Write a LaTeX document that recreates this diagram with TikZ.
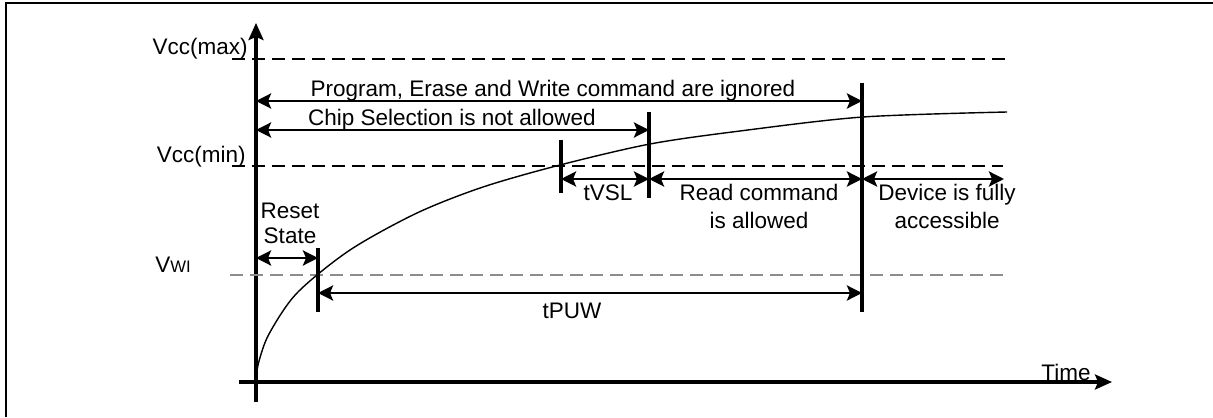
\documentclass[tikz,border=0pt]{standalone}
\usepackage{fontspec}
\setmainfont{Liberation Sans}
\usepackage{xcolor}
\usetikzlibrary{arrows.meta,calc}
\definecolor{ink}{HTML}{000000}
\definecolor{wiline}{HTML}{8C8C8C}
\tikzset{
  frame/.style={draw=ink, line width=1.7pt},
  axis/.style={draw=ink, line width=1.8pt, -{Stealth[length=3.4mm,width=3.0mm,inset=0.6mm]}},
  lvl/.style={draw=ink, line width=1.3pt, dash pattern=on 2.6mm off 1.4mm},
  lvlg/.style={lvl, draw=wiline, line width=1.6pt},
  span/.style={draw=ink, line width=1.7pt,
    {Stealth[length=3.0mm,width=3.0mm,inset=0.6mm]}-{Stealth[length=3.0mm,width=3.0mm,inset=0.6mm]}},
  bar/.style={draw=ink, line width=1.9pt},
  rise/.style={draw=ink, line width=0.8pt},
  lab/.style={text=ink, font=\fontsize{12.8}{16}\selectfont, inner sep=0pt},
}
\begin{document}
\begin{tikzpicture}
\useasboundingbox (0,0) rectangle (24.26,8.34);

% frame (top and left edges only)
\draw[frame] (0.12,0) -- (0.12,8.28) -- (24.26,8.28);

% axes
\coordinate (O) at (5.12,0.70);
\coordinate (ytop) at (5.12,7.88);
\coordinate (ybot) at (5.12,0.30);
\coordinate (xlft) at (4.78,0.70);
\coordinate (xend) at (22.24,0.70);
\draw[axis] (ybot) -- (ytop);
\draw[axis] (xlft) -- (xend);
\node[lab, anchor=base] (time) at (21.32,0.74) {Time};

% voltage levels
\coordinate (vmaxL) at (4.64,7.16);
\coordinate (vmaxR) at (20.10,7.16);
\coordinate (vminL) at (4.64,5.02);
\coordinate (vminR) at (20.06,5.02);
\coordinate (vwiL) at (4.60,2.84);
\coordinate (vwiR) at (20.14,2.84);
\draw[lvl] (vmaxL) -- (vmaxR);
\draw[lvl] (vminL) -- (vminR);
\draw[lvlg] (vwiL) -- (vwiR);
\node[lab, anchor=base east] (vmax) at (4.96,7.24) {Vcc(max)};
\node[lab, anchor=base east] (vmin) at (4.92,5.08) {Vcc(min)};
\node[lab, anchor=base west] (vwi) at (3.10,2.90) {V{\fontsize{9.5}{10}\selectfont WI}};

% supply ramp
\draw[rise] plot[smooth] coordinates
  {(5.12,0.72) (5.17,1.08) (5.38,1.66) (5.94,2.48) (7.00,3.34)
   (8.34,4.08) (9.66,4.60) (11.20,5.04) (13.00,5.46) (14.80,5.72)
   (17.26,6.00) (20.14,6.10)};

% time markers
\coordinate (rstT) at (6.36,3.38);   \coordinate (rstB) at (6.36,2.10);
\coordinate (vslT) at (11.22,5.54);  \coordinate (vslB) at (11.22,4.48);
\coordinate (csT) at (12.98,6.10);   \coordinate (csB) at (12.98,4.38);
\coordinate (puwT) at (17.24,6.68);  \coordinate (puwB) at (17.24,2.10);
\draw[bar] (rstT) -- (rstB);
\draw[bar] (vslT) -- (vslB);
\draw[bar] (csT) -- (csB);
\draw[bar] (puwT) -- (puwB);

% spans
\draw[span] (5.12,6.32) coordinate (pgL) -- (puwT |- pgL) coordinate (pgR);
\draw[span] (5.12,5.74) coordinate (chL) -- (csT |- chL) coordinate (chR);
\draw[span] (vslT |- 0,4.76) coordinate (tvL) -- (csT |- tvL) coordinate (tvR);
\draw[span] (tvR) -- (puwT |- tvR) coordinate (rdR);
\draw[span] (rdR) -- (20.08,4.76) coordinate (dvR);
\draw[span] (5.12,3.18) coordinate (rsL) -- (rstT |- rsL) coordinate (rsR);
\draw[span] (rstT |- 0,2.48) coordinate (pwL) -- (puwT |- pwL) coordinate (pwR);

% labels
\node[lab, anchor=base] (pgtxt) at (11.06,6.40) {Program, Erase and Write command are ignored};
\node[lab, anchor=base] (chtxt) at (9.04,5.82) {Chip Selection is not allowed};
\node[lab, anchor=base] (tvtxt) at (12.16,4.34) {tVSL};
\node[lab, anchor=base] (rdtxt) at (15.18,4.34) {Read command};
\node[lab, anchor=base] (rdtxtb) at (15.18,3.78) {is allowed};
\node[lab, anchor=base] (dvtxt) at (18.94,4.34) {Device is fully};
\node[lab, anchor=base] (dvtxtb) at (18.94,3.78) {accessible};
\node[lab, anchor=base] (rstxt) at (5.80,3.98) {Reset};
\node[lab, anchor=base] (rstxtb) at (5.80,3.48) {State};
\node[lab, anchor=base] (pwtxt) at (11.44,1.98) {tPUW};
\end{tikzpicture}
\end{document}
